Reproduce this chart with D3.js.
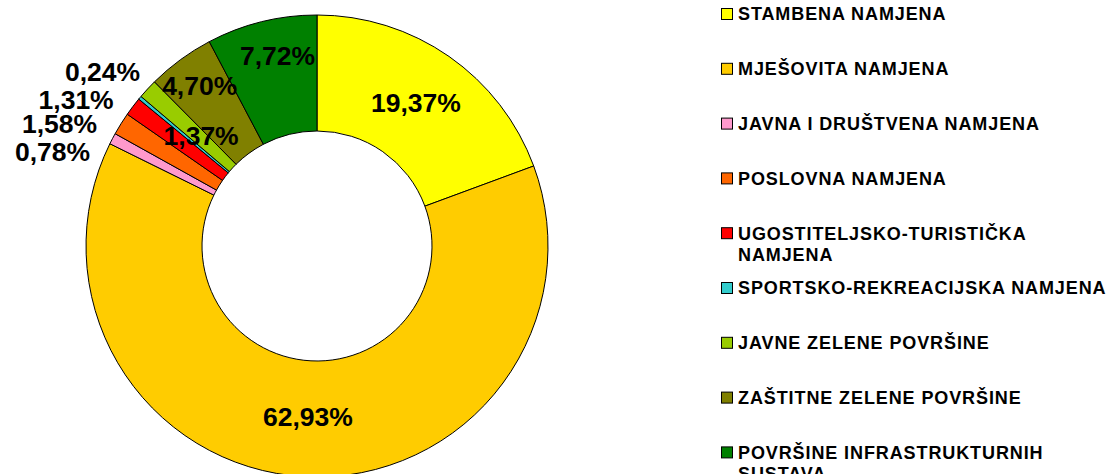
<!DOCTYPE html>
<html>
<head>
<meta charset="utf-8">
<script src="https://cdn.jsdelivr.net/npm/d3@7"></script>
<style>
  html, body { margin: 0; padding: 0; background: #fff; }
  svg { display: block; font-family: "Liberation Sans", Arial, sans-serif; }
</style>
</head>
<body>
<div id="chart-container"></div>
<script>
// namjena povrsina - udjeli u %
const categories = [
  "STAMBENA NAMJENA",
  "MJEŠOVITA NAMJENA",
  "JAVNA I DRUŠTVENA NAMJENA",
  "POSLOVNA NAMJENA",
  "UGOSTITELJSKO-TURISTIČKA NAMJENA",
  "SPORTSKO-REKREACIJSKA NAMJENA",
  "JAVNE ZELENE POVRŠINE",
  "ZAŠTITNE ZELENE POVRŠINE",
  "POVRŠINE INFRASTRUKTURNIH SUSTAVA"
];
const shares = [19.37, 62.93, 0.78, 1.58, 1.31, 0.24, 1.37, 4.70, 7.72];
const labels = ["19,37%", "62,93%", "0,78%", "1,58%", "1,31%", "0,24%", "1,37%", "4,70%", "7,72%"];

const colors = ["#ffff00", "#ffcc00", "#ff99cc", "#ff6600", "#ff0000", "#33cccc", "#99cc00", "#808000", "#008000"];

// where excel put the labels (radius + small nudges)
const labelRadius = [173, 173, 245, 245, 245, 245, 173, 173, 173];
const labelNudge = [[0, -2], [0, -2], [-10, 19], [-12, 7], [-8, 1], [11, -17], [11, 7], [-15, -21], [2, -23]];
const labelAnchor = ["middle", "middle", "end", "end", "end", "end", "middle", "middle", "middle"];

function chart() {
  const width = 1108;
  const height = 474;
  const cx = 317, cy = 246;
  const outerR = 231, innerR = 115;

  const svg = d3.create("svg")
    .attr("width", width)
    .attr("height", height)
    .attr("viewBox", [0, 0, width, height]);

  // attach first so text can be measured for wrapping
  d3.select("#chart-container").append(() => svg.node());

  const data = shares.map((v, i) => ({name: categories[i], value: v, label: labels[i], i}));

  const pie = d3.pie().sort(null).value(d => d.value);
  const arcs = pie(data);

  const arc = d3.arc().innerRadius(innerR).outerRadius(outerR);

  const g = svg.append("g").attr("transform", `translate(${cx},${cy})`);

  g.selectAll("path")
    .data(arcs)
    .join("path")
    .attr("d", arc)
    .attr("fill", d => colors[d.index])
    .attr("stroke", "#000")
    .attr("stroke-width", 1)
    .attr("stroke-linejoin", "round");

  // labels
  g.selectAll("text")
    .data(arcs)
    .join("text")
    .attr("transform", d => {
      const r = labelRadius[d.index];
      const [x, y] = d3.arc().innerRadius(r).outerRadius(r).centroid(d);
      const [nx, ny] = labelNudge[d.index];
      return `translate(${x + nx},${y + ny})`;
    })
    .attr("text-anchor", d => labelAnchor[d.index])
    .attr("dy", "0.36em")
    .attr("font-size", 26.5)
    .attr("font-weight", "bold")
    .attr("fill", "#000")
    .text(d => d.data.label);

  // legend
  const legend = svg.append("g").attr("transform", "translate(721,14)");
  const step = 54.8;
  const maxW = 372;

  const item = legend.selectAll("g")
    .data(data)
    .join("g")
    .attr("transform", (d, i) => `translate(0,${i * step})`);

  item.append("rect")
    .attr("x", 0.5)
    .attr("y", -5.5)
    .attr("width", 11)
    .attr("height", 11)
    .attr("fill", d => colors[d.i])
    .attr("stroke", "#000")
    .attr("stroke-width", 1);

  item.append("text")
    .attr("x", 17)
    .attr("font-size", 18)
    .attr("font-weight", "bold")
    .attr("letter-spacing", 0.9)
    .attr("fill", "#000")
    .each(function(d) {
      const t = d3.select(this);
      const words = d.name.split(" ");
      let line = [];
      let tspan = t.append("tspan").attr("x", 17).attr("dy", "0.36em");
      words.forEach(w => {
        line.push(w);
        tspan.text(line.join(" "));
        if (tspan.node().getComputedTextLength() > maxW && line.length > 1) {
          line.pop();
          tspan.text(line.join(" "));
          line = [w];
          tspan = t.append("tspan").attr("x", 17).attr("dy", 21).text(w);
        }
      });
    });
}

chart();
</script>
</body>
</html>
